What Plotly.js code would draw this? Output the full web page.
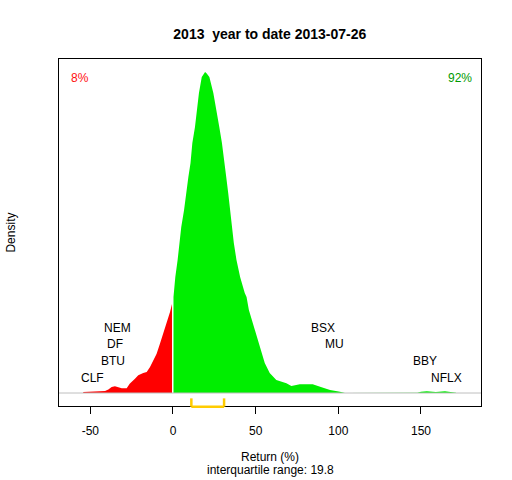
<!DOCTYPE html>
<html>
<head>
<meta charset="utf-8">
<script src="https://cdn.plot.ly/plotly-3.0.1.min.js"></script>
<style>html,body{margin:0;padding:0;background:#fff;}#chart{width:512px;height:480px;}</style>
</head>
<body>
<div id="chart"></div>
<script>
// ---- data ----
var negReturn = [-54.3, -48.2, -41.1, -39.1, -37.1, -35.1, -33.1, -31.0, -28.0, -26.2, -23.0, -21.0, -18.0, -15.9, -13.9, -11.9, -9.9, -7.9, -5.9, -3.8, -1.8, -0.6];
var negDensity = [0.000078, 0.000117, 0.000156, 0.000273, 0.000467, 0.000522, 0.000467, 0.000366, 0.000366, 0.000724, 0.001114, 0.001378, 0.001558, 0.001635, 0.002025, 0.002547, 0.003061, 0.003839, 0.004618, 0.005452, 0.006308, 0.00693];
var posReturn = [0.3, 1.4, 2.8, 3.8, 5.0, 6.7, 7.9, 9.3, 10.6, 11.7, 13.3, 14.3, 15.7, 17.4, 18.6, 19.4, 20.4, 22.0, 24.4, 26.4, 28.0, 29.6, 31.1, 32.2, 33.4, 34.4, 35.4, 36.8, 38.4, 40.6, 43.4, 44.5, 45.9, 47.0, 49.5, 52.5, 55.5, 58.5, 62.5, 68.6, 71.6, 76.7, 80.3, 84.5, 89.9, 95.0, 101.0, 104.0, 147.8, 150.0, 153.5, 159.0, 164.5, 169.0, 171.2];
var posDensity = [0.007476, 0.009034, 0.010358, 0.011682, 0.012928, 0.014252, 0.015576, 0.016822, 0.017912, 0.01947, 0.020716, 0.02204, 0.023364, 0.02461, 0.02488, 0.025, 0.02488, 0.02461, 0.023364, 0.02204, 0.020716, 0.01947, 0.018146, 0.016822, 0.015576, 0.014252, 0.012928, 0.011682, 0.010358, 0.009034, 0.007788, 0.007476, 0.006464, 0.005997, 0.004906, 0.003582, 0.002336, 0.001558, 0.001012, 0.000755, 0.000545, 0.000678, 0.000701, 0.000678, 0.000444, 0.000234, 0.000101, 0, 0.00002, 0.000093, 0.000132, 0.000078, 0.000132, 0.000093, 0.00002];
var tickValues = [-50, 0, 50, 100, 150];
var tickLabels = ['-50', '0', '50', '100', '150'];
var stockNames = ['CLF', 'BTU', 'DF', 'NEM', 'BSX', 'MU', 'BBY', 'NFLX'];
var stockReturns = [-48.7, -36.5, -35.0, -33.6, 90.6, 97.8, 152.7, 165.7];
var stockLevel = [1, 2, 3, 4, 4, 3, 2, 1];
var quartiles = [11.1, 30.9];
var iqrValue = 19.8;
var pctNegative = '8%';
var pctPositive = '92%';
var titleText = '2013  year to date 2013-07-26';

// ---- drawing ----
var FONT = 'Liberation Sans, Arial, Helvetica, sans-serif';
var traces = [
  {x: negReturn, y: negDensity, type: 'scatter', mode: 'lines', fill: 'tozeroy',
   fillcolor: '#FF0000', line: {width: 0, color: '#FF0000'}, hoverinfo: 'skip'},
  {x: posReturn, y: posDensity, type: 'scatter', mode: 'lines', fill: 'tozeroy',
   fillcolor: '#00EE00', line: {width: 0, color: '#00EE00'}, hoverinfo: 'skip'}
];

var annotations = [];
for (var i = 0; i < stockNames.length; i++) {
  annotations.push({x: stockReturns[i], xref: 'x', y: 0.0816 + (stockLevel[i] - 1) * 0.0482, yref: 'paper',
    text: stockNames[i], showarrow: false, xanchor: 'center', yanchor: 'middle',
    font: {family: FONT, size: 12, color: '#000'}});
}
annotations.push({x: 0.049, xref: 'paper', y: 0.946, yref: 'paper', text: pctNegative, showarrow: false,
  xanchor: 'center', yanchor: 'middle', font: {family: FONT, size: 12, color: '#FF1010'}});
annotations.push({x: 0.9495, xref: 'paper', y: 0.946, yref: 'paper', text: pctPositive, showarrow: false,
  xanchor: 'center', yanchor: 'middle', font: {family: FONT, size: 12, color: '#009A00'}});
annotations.push({x: 0.5, xref: 'paper', y: -0.147, yref: 'paper', text: 'Return (%)', showarrow: false,
  xanchor: 'center', yanchor: 'middle', font: {family: FONT, size: 12, color: '#000'}});
annotations.push({x: 0.5, xref: 'paper', y: -0.1844, yref: 'paper', text: 'interquartile range: ' + iqrValue.toFixed(1), showarrow: false,
  xanchor: 'center', yanchor: 'middle', font: {family: FONT, size: 12, color: '#000'}});
annotations.push({x: -0.116, xref: 'paper', y: 0.5, yref: 'paper', text: 'Density', showarrow: false, textangle: -90,
  xanchor: 'center', yanchor: 'middle', font: {family: FONT, size: 12, color: '#000'}});

var gold = '#FFCC00';
var shapes = [
  {type: 'line', xref: 'paper', yref: 'y', x0: 0, x1: 1, y0: 0, y1: 0, line: {color: '#BEBEBE', width: 1}},
  {type: 'line', xref: 'x', yref: 'paper', x0: quartiles[0], x1: quartiles[0], y0: 0.022, y1: -0.002, line: {color: gold, width: 2.5}},
  {type: 'line', xref: 'x', yref: 'paper', x0: quartiles[1], x1: quartiles[1], y0: 0.022, y1: -0.002, line: {color: gold, width: 2.5}},
  {type: 'line', xref: 'x', yref: 'paper', x0: quartiles[0], x1: quartiles[1], y0: -0.002, y1: -0.002, line: {color: gold, width: 2.5}}
];

var layout = {
  width: 512, height: 480,
  margin: {l: 59, r: 31, t: 59, b: 74, pad: 0},
  paper_bgcolor: '#fff', plot_bgcolor: '#fff',
  showlegend: false,
  title: {text: '<b>' + titleText + '</b>', x: 0.527, xanchor: 'center', y: 0.93, yref: 'container', yanchor: 'middle',
          font: {family: FONT, size: 14, color: '#000'}},
  xaxis: {range: [-68.95, 186.3], showgrid: false, zeroline: false, showline: true, mirror: true,
          linecolor: '#000', linewidth: 1, ticks: 'outside', ticklen: 7, tickcolor: '#000', tickwidth: 1,
          ticklabelstandoff: 7,
          tickvals: tickValues, ticktext: tickLabels, tickfont: {family: FONT, size: 12, color: '#000'}},
  yaxis: {range: [-0.0010124, 0.026012], showgrid: false, zeroline: false, showline: true, mirror: true,
          linecolor: '#000', linewidth: 1, ticks: '', showticklabels: false},
  annotations: annotations,
  shapes: shapes
};

Plotly.newPlot('chart', traces, layout, {staticPlot: true, displayModeBar: false});
</script>
</body>
</html>
